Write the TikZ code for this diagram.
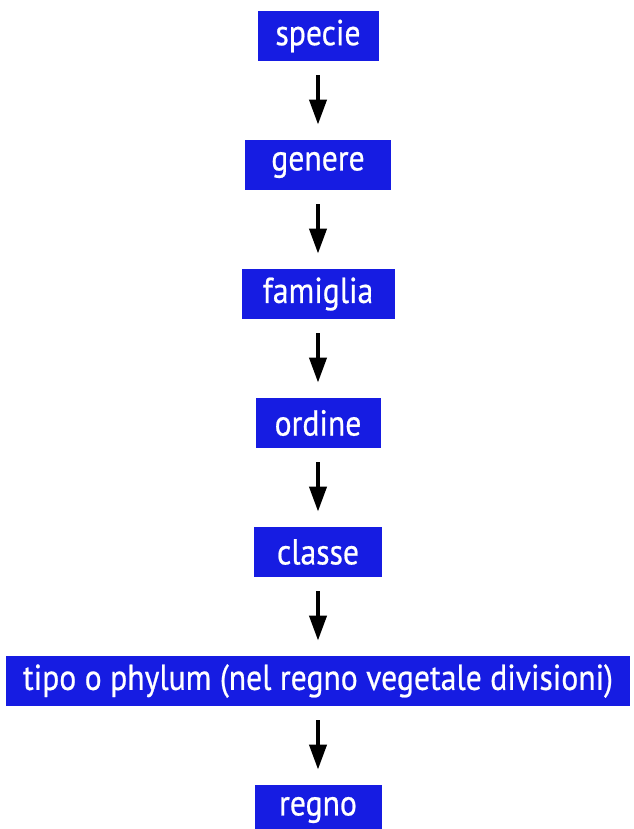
\documentclass[tikz,border=0pt]{standalone}
\usepackage{fontspec}
\setmainfont[FakeStretch=0.88,FakeBold=0.6]{PT Sans}
\usepackage{tikz}
\usetikzlibrary{arrows.meta}
\usetikzlibrary{positioning}

\definecolor{boxblue}{RGB}{22,28,226}

\begin{document}
\begin{tikzpicture}[
        node distance=64.5pt,
        every node/.style={rectangle, fill=boxblue, text=white, minimum height=25pt,
            inner xsep=4pt, font=\fontsize{18pt}{21pt}\selectfont},
        link/.style={line width=2pt, -{Triangle[width=8.5pt,length=12.5pt]},
            shorten <=7pt, shorten >=7.5pt}
        ]
        \useasboundingbox (0,0) rectangle (316.5pt,-414.5pt);

        \node [minimum width=60.5pt] (specie) at (159pt,-18pt) {specie};
        \node [below of=specie, minimum width=73pt] (genere) {genere};
        \node [below of=genere, minimum width=76.5pt] (famiglia) {famiglia};
        \node [below of=famiglia, minimum width=62.5pt] (ordine) {ordine};
        \node [below of=ordine, minimum width=64pt] (classe) {classe};
        \node [below of=classe, minimum width=312pt] (tipo) {tipo o phylum (nel regno vegetale divisioni)};
        \node [below of=tipo, minimum width=63.5pt] (regno) {regno};

        \draw [link] (specie) -- (genere);
        \draw [link] (genere) -- (famiglia);
        \draw [link] (famiglia) -- (ordine);
        \draw [link] (ordine) -- (classe);
        \draw [link] (classe) -- (tipo);
        \draw [link] (tipo) -- (regno);
\end{tikzpicture}
\end{document}
